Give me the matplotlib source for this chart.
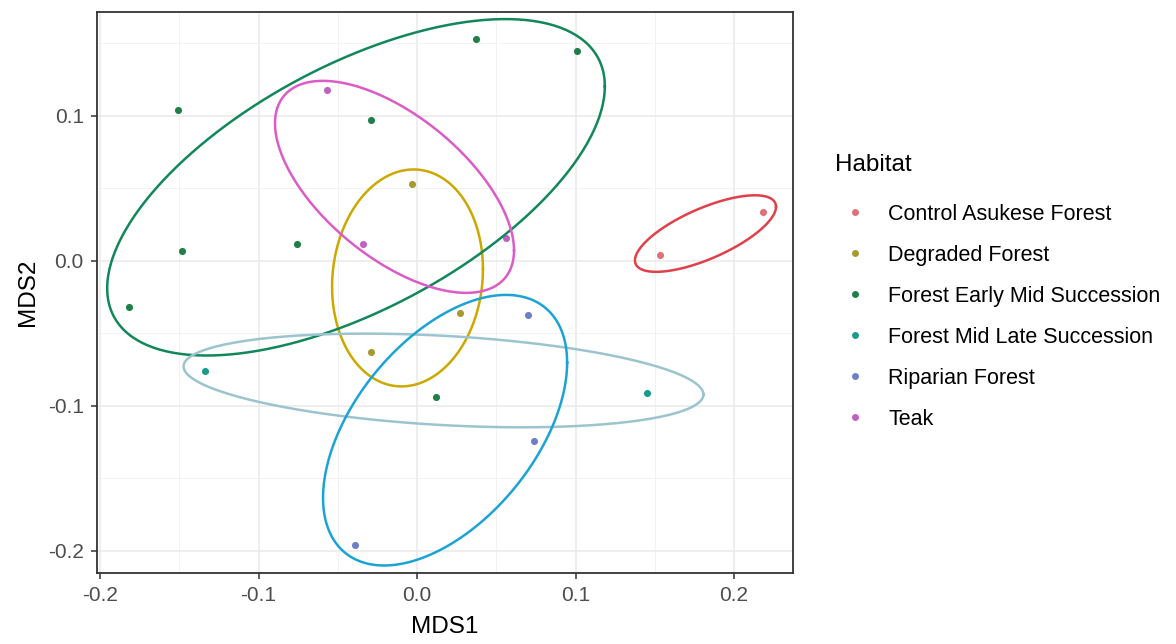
import numpy as np
import matplotlib
matplotlib.use('Agg')
import matplotlib.pyplot as plt
from matplotlib.lines import Line2D

plt.rcParams['font.family'] = ['Liberation Sans', 'DejaVu Sans']

# habitat groups
habitats = ['Control Asukese Forest', 'Degraded Forest', 'Forest Early Mid Succession',
            'Forest Mid Late Succession', 'Riparian Forest', 'Teak']

# NMDS site scores per habitat
mds1 = [
    [0.153, 0.218],
    [-0.003, -0.029, 0.027],
    [-0.151, -0.148, -0.182, -0.076, -0.029, 0.037, 0.101, 0.012],
    [-0.134, 0.145],
    [0.070, 0.074, -0.039],
    [-0.057, -0.034, 0.056],
]
mds2 = [
    [0.004, 0.034],
    [0.053, -0.063, -0.036],
    [0.104, 0.007, -0.032, 0.012, 0.097, 0.153, 0.145, -0.094],
    [-0.076, -0.091],
    [-0.037, -0.124, -0.196],
    [0.118, 0.012, 0.016],
]

# ellipse summaries: centre, half extent in x / y, correlation
ell_cx = [0.182, -0.006, -0.0385, 0.0167, 0.0177, -0.0142]
ell_cy = [0.0189, -0.0117, 0.0508, -0.0824, -0.1167, 0.0511]
ell_sx = [0.0445, 0.0476, 0.157, 0.164, 0.077, 0.0754]
ell_sy = [0.0264, 0.0748, 0.116, 0.0323, 0.0933, 0.0731]
ell_r = [0.70, 0.08, 0.60, -0.30, 0.50, -0.60]

point_colors = ['#E0707A', '#A89A30', '#1E8048', '#1A9C8C', '#6E7FC8', '#C060C0']
ellipse_colors = ['#E0404A', '#CCA800', '#11875A', '#9CC4CF', '#1CA3D6', '#DB5CC6']

fig = plt.figure(figsize=(11.76, 6.44), dpi=100)
ax = fig.add_axes([0.0825, 0.1102, 0.5918, 0.8712])

t = np.linspace(0, 2 * np.pi, 300)
for i in range(len(habitats)):
    ax.scatter(mds1[i], mds2[i], s=26, color=point_colors[i], zorder=3, linewidths=0)
    ex = ell_cx[i] + ell_sx[i] * np.cos(t)
    ey = ell_cy[i] + ell_sy[i] * (ell_r[i] * np.cos(t) + np.sqrt(1 - ell_r[i] ** 2) * np.sin(t))
    ax.plot(ex, ey, color=ellipse_colors[i], linewidth=1.8, zorder=4)

ax.set_xlim(-0.2019, 0.2372)
ax.set_ylim(-0.2152, 0.1717)
ax.set_xticks([-0.2, -0.1, 0.0, 0.1, 0.2])
ax.set_yticks([-0.2, -0.1, 0.0, 0.1])
ax.set_xticks([-0.15, -0.05, 0.05, 0.15], minor=True)
ax.set_yticks([-0.15, -0.05, 0.05, 0.15], minor=True)
ax.set_xticklabels(['-0.2', '-0.1', '0.0', '0.1', '0.2'])
ax.set_yticklabels(['-0.2', '-0.1', '0.0', '0.1'])

ax.grid(True, which='major', color='#EBEBEB', linewidth=1.2, zorder=0)
ax.grid(True, which='minor', color='#F2F2F2', linewidth=0.7, zorder=0)
ax.set_axisbelow(True)
for sp in ax.spines.values():
    sp.set_color('#333333')
    sp.set_linewidth(1.3)
ax.tick_params(which='major', length=4.5, width=1.1, color='#333333', labelcolor='#4D4D4D',
               labelsize=15, pad=5)
ax.tick_params(which='minor', length=0)

ax.set_xlabel('MDS1', fontsize=17.5, labelpad=8)
ax.set_ylabel('MDS2', fontsize=17.5, labelpad=6)

handles = [Line2D([], [], marker='o', linestyle='', markersize=5, color=c, markeredgewidth=0)
           for c in point_colors]
fig.text(835 / 1176, 1 - 165 / 644, 'Habitat', fontsize=17.5, ha='left', va='center')
fig.legend(handles, habitats, loc='upper left', bbox_to_anchor=(0.7088, 0.697),
           frameon=False, fontsize=15.5, labelspacing=0.93, handletextpad=0.93,
           handlelength=1.2, borderaxespad=0)

fig.savefig('out.png', dpi=100)
